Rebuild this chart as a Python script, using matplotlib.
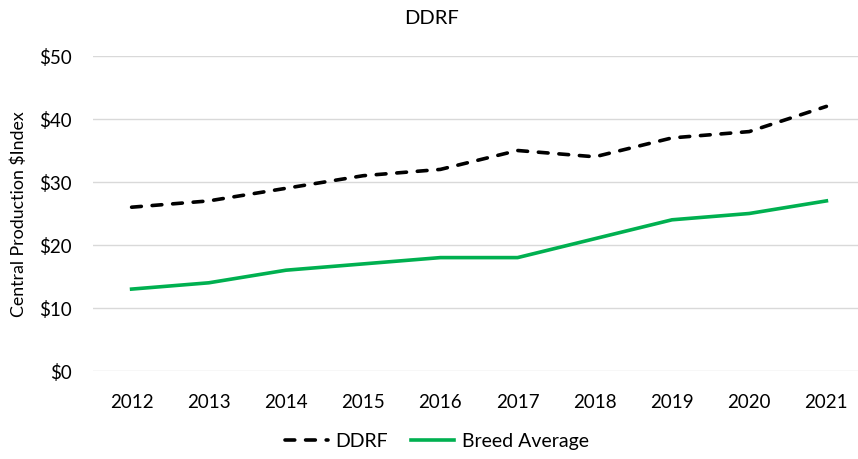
import matplotlib
matplotlib.use("Agg")
import matplotlib.pyplot as plt
from matplotlib.ticker import FuncFormatter

years = ["2012", "2013", "2014", "2015", "2016", "2017", "2018", "2019", "2020", "2021"]
ddrf = [26, 27, 29, 31, 32, 35, 34, 37, 38, 42]
breed_avg = [13, 14, 16, 17, 18, 18, 21, 24, 25, 27]

plt.rcParams['font.family'] = ['Lato', 'DejaVu Sans']

W, H = 858, 460
fig = plt.figure(figsize=(W / 100, H / 100), dpi=100)
left, right, top, bottom = 93, 865, 57, 372
ax = fig.add_axes([left / W, 1 - bottom / H, (right - left) / W, (bottom - top) / H])

x = list(range(len(years)))
ax.plot(x, ddrf, color='black', linewidth=2.6, dashes=(2.7, 3.0),
        dash_capstyle='round', label='DDRF')
ax.plot(x, breed_avg, color='#00B050', linewidth=2.6, label='Breed Average')

ax.set_xlim(-0.5, len(years) - 0.5)
ax.set_ylim(0, 50)
ax.set_yticks(range(0, 51, 10))
ax.yaxis.set_major_formatter(FuncFormatter(lambda v, p: f"${int(v)}"))
ax.set_xticks(x)
ax.set_xticklabels(years)
ax.grid(axis='y', color='#D9D9D9', linewidth=1.0)
ax.set_axisbelow(True)
for s in ax.spines.values():
    s.set_visible(False)
ax.tick_params(axis='both', length=0, labelsize=13.5, colors='black')
ax.tick_params(axis='x', pad=16)
ax.tick_params(axis='y', pad=15)

ax.set_ylabel('Central Production $Index', fontsize=12.8)
ax.yaxis.set_label_coords(-66 / (right - left), 0.5)

fig.text(431 / W, 1 - 18 / H, 'DDRF', ha='center', va='center', fontsize=14.5)

leg = fig.legend(loc='center', bbox_to_anchor=(437 / W, 1 - 442 / H), ncol=2,
                 frameon=False, fontsize=14, handlelength=2.2, columnspacing=1.2,
                 handletextpad=0.4)

fig.savefig('out.png', dpi=100)
